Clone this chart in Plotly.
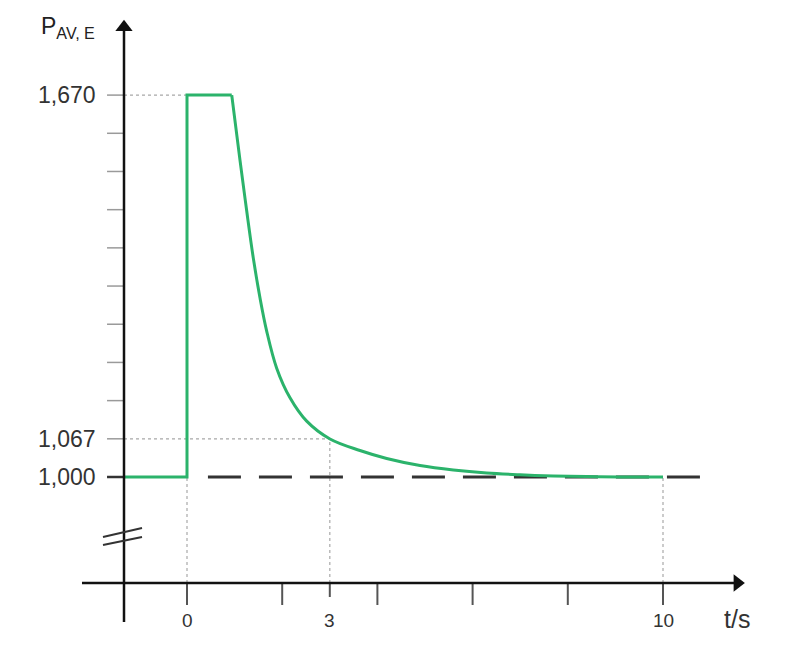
import plotly.graph_objects as go

# ---------------- data ----------------
# green power curve P_AV,E over time t (s)
step_t = [-1.32, 0.0, 0.0, 0.94]
step_p = [1.000, 1.000, 1.670, 1.670]
decay_t = [0.94, 1.113, 1.254, 1.393, 1.534, 1.674, 1.884, 2.164, 2.515, 3.004,
           3.634, 4.195, 4.895, 5.595, 6.296, 6.996, 7.695, 8.397, 9.097, 10.0]
decay_p = [1.670, 1.556, 1.467, 1.384, 1.314, 1.256, 1.191, 1.139, 1.098, 1.0667,
           1.0465, 1.0325, 1.0202, 1.0123, 1.0070, 1.0039, 1.0018, 1.0007, 1.0002, 1.000]

# dashed reference level 1,000
base_t = [0.44, 10.78]
base_p = [1.000, 1.000]

# y axis ticks / labels
y_minor_ticks = [1.000, 1.067, 1.134, 1.201, 1.268, 1.335, 1.402, 1.469, 1.536, 1.603, 1.670]
y_label_vals = [1.670, 1.067, 1.000]
y_label_text = ["1,670", "1,067", "1,000"]

# x axis ticks / labels
x_long_ticks = [0, 2, 4, 6, 8, 10]
x_short_ticks = [3]
x_label_vals = [0, 3, 10]
x_label_text = ["0", "3", "10"]

# dotted guide lines
guide_h = [(1.670, 0.0), (1.067, 3.0)]                 # level, end time
guide_v = [(0.0, 1.000), (3.0, 1.067), (10.0, 1.000)]  # time, top level

# axis geometry (data units)
axis_t = -1.3235      # where the P axis crosses
axis_p = 0.814        # where the t axis crosses
t_axis_start, t_axis_end = -2.206, 11.72
p_axis_start, p_axis_end = 0.7456, 1.802

FONT = "Liberation Sans, Arial, sans-serif"
GREEN = "#2bb36b"
AXIS = "#111111"

fig = go.Figure()

# dotted guides
for lvl, tend in guide_h:
    fig.add_trace(go.Scatter(x=[axis_t, tend], y=[lvl, lvl], mode="lines",
                             line=dict(color="#a8a8a8", width=1.3, dash="dot"),
                             hoverinfo="skip"))
for tt, top in guide_v:
    fig.add_trace(go.Scatter(x=[tt, tt], y=[axis_p, top], mode="lines",
                             line=dict(color="#b0b0b0", width=1.3, dash="dot"),
                             hoverinfo="skip"))

# y ticks (gray), 1,000 dark
for v in y_minor_ticks:
    col = "#333333" if v == 1.0 else "#9a9a9a"
    w = 2.5 if v == 1.0 else 1.5
    fig.add_trace(go.Scatter(x=[-1.68, axis_t], y=[v, v], mode="lines",
                             line=dict(color=col, width=w), hoverinfo="skip"))

# x ticks
for tt in x_long_ticks:
    fig.add_trace(go.Scatter(x=[tt, tt], y=[axis_p, 0.7754], mode="lines",
                             line=dict(color="#555555", width=2), hoverinfo="skip"))
for tt in x_short_ticks:
    fig.add_trace(go.Scatter(x=[tt, tt], y=[axis_p, 0.7895], mode="lines",
                             line=dict(color="#555555", width=2), hoverinfo="skip"))

# dashed baseline
fig.add_trace(go.Scatter(x=base_t, y=base_p, mode="lines",
                         line=dict(color="#333333", width=3, dash="33px,18px"),
                         hoverinfo="skip"))

# green curve
fig.add_trace(go.Scatter(x=step_t, y=step_p, mode="lines",
                         line=dict(color=GREEN, width=3), hoverinfo="skip"))
fig.add_trace(go.Scatter(x=decay_t, y=decay_p, mode="lines",
                         line=dict(color=GREEN, width=3, shape="spline", smoothing=1.0),
                         hoverinfo="skip"))

# axis lines
ARROW = 15  # marker size of arrow heads (px)
tip_dx = (ARROW / 2) / 47.6
tip_dy = (ARROW / 2) / 570.0
fig.add_trace(go.Scatter(x=[t_axis_start, t_axis_end - tip_dx], y=[axis_p, axis_p], mode="lines",
                         line=dict(color=AXIS, width=2.5), hoverinfo="skip"))
fig.add_trace(go.Scatter(x=[axis_t, axis_t], y=[p_axis_start, p_axis_end - tip_dy], mode="lines",
                         line=dict(color=AXIS, width=2.5), hoverinfo="skip"))
# arrow heads
fig.add_trace(go.Scatter(x=[t_axis_end - tip_dx], y=[axis_p], mode="markers",
                         marker=dict(symbol="triangle-right", size=ARROW, color=AXIS,
                                     line=dict(width=0)), hoverinfo="skip"))
fig.add_trace(go.Scatter(x=[axis_t], y=[p_axis_end - tip_dy], mode="markers",
                         marker=dict(symbol="triangle-up", size=ARROW, color=AXIS,
                                     line=dict(width=0)), hoverinfo="skip"))

# axis break marks
for (p0, p1) in [(0.8947, 0.9105), (0.8807, 0.8947)]:
    fig.add_trace(go.Scatter(x=[-1.765, -0.945], y=[p0, p1], mode="lines",
                             line=dict(color="#333333", width=2), hoverinfo="skip"))

annotations = []
# y labels
for v, txt in zip(y_label_vals, y_label_text):
    annotations.append(dict(x=-1.88, y=v, xref="x", yref="y", text=txt, showarrow=False,
                            xanchor="right", yanchor="middle",
                            font=dict(family=FONT, size=23, color="#333333")))
# x labels
for tt, txt in zip(x_label_vals, x_label_text):
    annotations.append(dict(x=tt, y=0.7474, xref="x", yref="y", text=txt, showarrow=False,
                            xanchor="center", yanchor="middle",
                            font=dict(family=FONT, size=19, color="#333333")))
# axis titles
annotations.append(dict(x=11.55, y=0.7510, xref="x", yref="y", text="t/s", showarrow=False,
                        xanchor="center", yanchor="middle",
                        font=dict(family=FONT, size=25, color="#333333")))
annotations.append(dict(x=-3.10, y=1.8175, xref="x", yref="y", text="P<sub>AV, E</sub>",
                        showarrow=False, xanchor="left", yanchor="top",
                        font=dict(family=FONT, size=23, color="#222222")))

# page body has an 8 px margin: the figure covers reference pixels 8..800 x 8..651
fig.update_layout(
    width=792, height=643,
    margin=dict(l=0, r=0, t=0, b=0),
    paper_bgcolor="white", plot_bgcolor="white",
    showlegend=False,
    xaxis=dict(range=[-3.7605, 12.8782], visible=False, fixedrange=True),
    yaxis=dict(range=[0.69474, 1.82281], visible=False, fixedrange=True),
    annotations=annotations,
    shapes=[dict(type="rect", xref="paper", yref="paper", x0=0.994, x1=1.0, y0=0, y1=1,
                 fillcolor="#111111", line=dict(width=0))],
)

fig.write_html("out.html")
